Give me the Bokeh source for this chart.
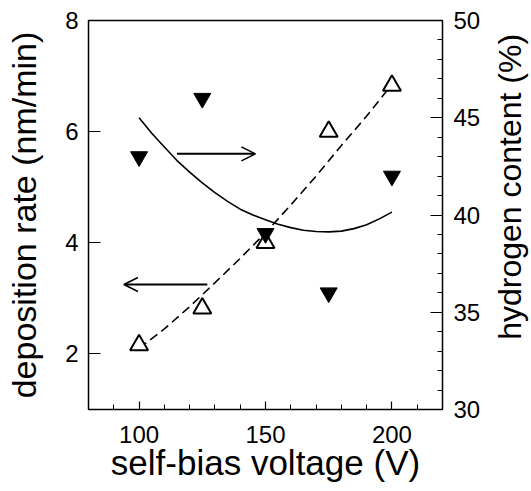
import math
from bokeh.plotting import figure
from bokeh.layouts import row
from bokeh.models import (Range1d, LinearAxis, SingleIntervalTicker, Arrow, OpenHead,
                          ColumnDataSource, Label)
from bokeh.embed import file_html
from bokeh.resources import INLINE

# ---- data ----
voltage = [100, 125, 150, 175, 200]
deposition_rate = [2.16, 2.82, 4.0, 6.0, 6.83]          # nm/min, left axis (open triangles)
hydrogen_content = [43.0, 46.0, 39.05, 36.0, 42.0]      # %, right axis (filled triangles)

dep_fit_voltage = [100, 110, 120, 130, 140, 150, 160, 170, 180, 190, 200]
deposition_fit = [2.1, 2.45, 2.85, 3.28, 3.72, 4.18, 4.68, 5.2, 5.75, 6.28, 6.85]

h_fit_voltage = [100, 105, 110, 115, 120, 125, 130, 135, 140, 145, 150,
                 155, 160, 165, 170, 175, 180, 185, 190, 195, 200]
hydrogen_fit = [45.0, 44.2, 43.5, 42.8, 42.2, 41.65, 41.15, 40.7, 40.3, 40.0, 39.75,
                39.52, 39.35, 39.22, 39.15, 39.13, 39.17, 39.3, 39.5, 39.8, 40.15]

# arrows (x start, x end, y on the deposition-rate axis)
arrow_left = (127, 94, 3.25)
arrow_right = (115, 146, 5.6)

x_label = "self-bias voltage (V)"
y_left_label = "deposition rate (nm/min)"
y_right_label = "hydrogen content (%)"

FONT = "Liberation Sans"
TITLE_W = 45

p = figure(width=531 - TITLE_W, height=491, x_range=Range1d(80, 220), y_range=Range1d(1, 8),
           output_backend="svg", toolbar_location=None,
           x_axis_type=None, y_axis_type=None,
           min_border_left=88, min_border_right=531 - TITLE_W - 442,
           min_border_top=20, min_border_bottom=82)
p.extra_y_ranges = {"h": Range1d(30, 50)}
p.outline_line_color = "black"
p.outline_line_width = 1.5
p.outline_line_alpha = 1.0
p.background_fill_color = "white"
p.border_fill_color = "white"

def style(ax, tick_in, minor_in, standoff):
    ax.axis_line_color = None
    ax.major_tick_in = tick_in
    ax.major_tick_out = 0
    ax.minor_tick_in = minor_in
    ax.minor_tick_out = 0
    ax.major_tick_line_color = "black"
    ax.major_tick_line_width = 1.2
    ax.minor_tick_line_width = 1.0
    ax.minor_tick_line_color = "black" if minor_in else None
    ax.major_label_text_font = FONT
    ax.major_label_text_font_size = "24px"
    ax.major_label_text_color = "black"
    ax.major_label_standoff = standoff
    ax.axis_label_text_font = FONT
    ax.axis_label_text_font_size = "34px"
    ax.axis_label_text_font_style = "normal"
    ax.axis_label_text_color = "black"

xaxis = LinearAxis(ticker=SingleIntervalTicker(interval=50, num_minor_ticks=5), axis_label=x_label)
style(xaxis, 8, 5, 16)
xaxis.axis_label_standoff = -3
xaxis.axis_label_text_font_size = "35px"
p.add_layout(xaxis, "below")

yaxis = LinearAxis(ticker=SingleIntervalTicker(interval=2, num_minor_ticks=0), axis_label=y_left_label)
style(yaxis, 12, 0, 10)
yaxis.axis_label_standoff = 19
p.add_layout(yaxis, "left")

yaxis2 = LinearAxis(y_range_name="h", ticker=SingleIntervalTicker(interval=5, num_minor_ticks=5))
style(yaxis2, 12, 5, 11)
p.add_layout(yaxis2, "right")

# fit curves
p.line(h_fit_voltage, hydrogen_fit, y_range_name="h", line_color="black", line_width=1.6)
p.line(dep_fit_voltage, deposition_fit, line_color="black", line_width=1.6, line_dash="9 5")

# data points
src = ColumnDataSource(dict(v=voltage, d=deposition_rate, h=hydrogen_content))
p.scatter("v", "d", source=src, marker="triangle", size=18, fill_color="white",
          line_color="black", line_width=2)
p.scatter("v", "h", source=src, marker="inverted_triangle", size=17, fill_color="black",
          line_color="black", line_width=1, y_range_name="h")

# arrows
for xs, xe, ya in (arrow_left, arrow_right):
    p.add_layout(Arrow(end=OpenHead(size=14, line_width=1.6, line_color="black"),
                       x_start=xs, y_start=ya, x_end=xe, y_end=ya,
                       line_width=2, line_color="black"))

# narrow strip holding the right-hand axis title (reads bottom to top)
p2 = figure(width=TITLE_W, height=491, x_range=Range1d(0, TITLE_W), y_range=Range1d(0, 491),
            output_backend="svg", toolbar_location=None, x_axis_type=None, y_axis_type=None,
            min_border_left=0, min_border_right=0, min_border_top=0, min_border_bottom=0)
p2.outline_line_color = None
p2.background_fill_color = "white"
p2.border_fill_color = "white"
p2.grid.visible = False
p2.add_layout(Label(x=23, y=281, text=y_right_label, angle=math.pi / 2,
                    text_align="center", text_baseline="middle",
                    text_font=FONT, text_font_size="32px", text_color="black"))

layout = row(p, p2, spacing=0)

open("out.html", "w").write(file_html(layout, INLINE))
